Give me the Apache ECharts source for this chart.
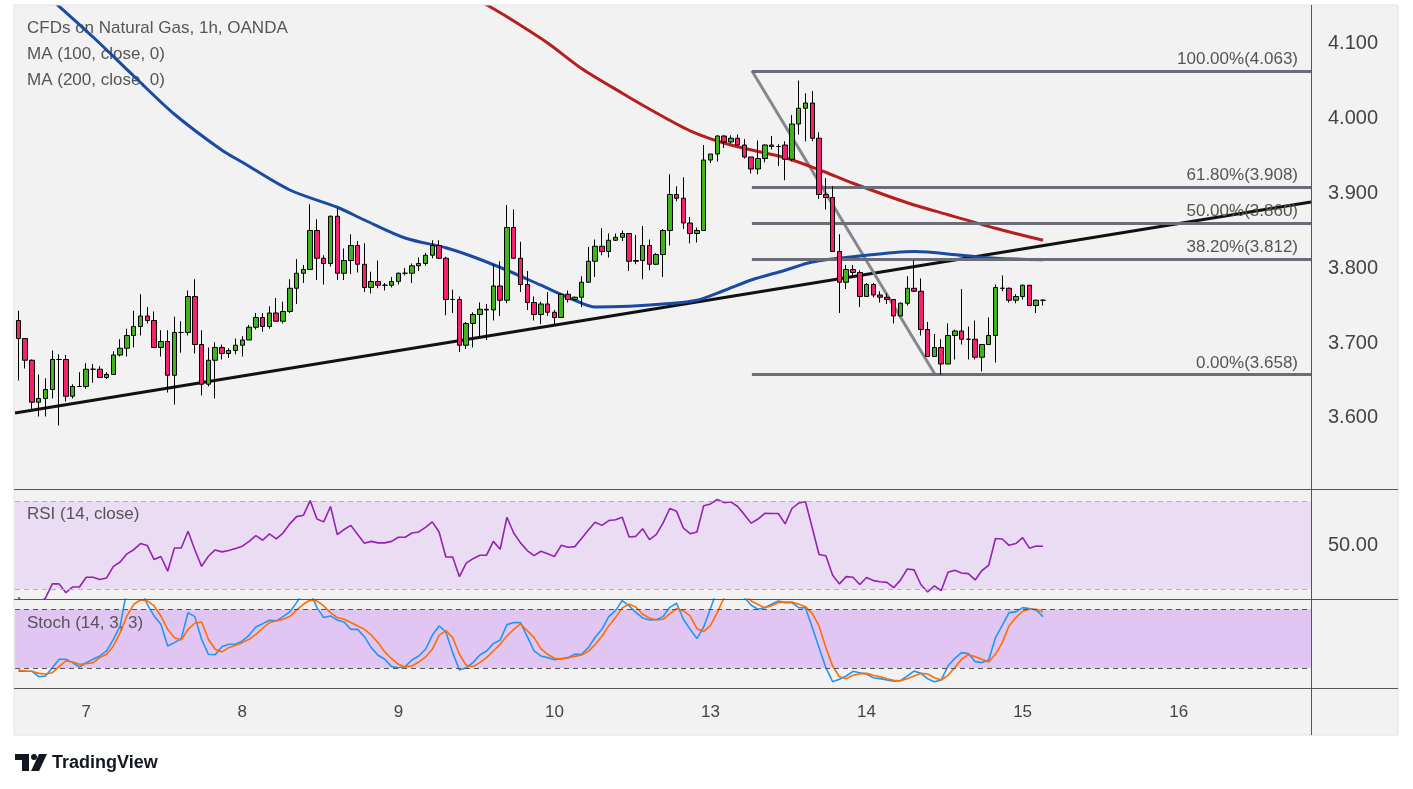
<!DOCTYPE html>
<html><head><meta charset="utf-8">
<script src="https://cdn.jsdelivr.net/npm/echarts@6/dist/echarts.min.js"></script>
<style>html,body{margin:0;padding:0;background:#fff}#c{width:1413px;height:789px}</style>
</head><body><div id="c"></div>
<script>
// ---------- data ----------
const days = ['7','8','9','10','13','14','15','16'];
const firstDayIndex = 10;
const barsPerDay = 23;
const slotCount = 191;

const open = [3.730,3.706,3.677,3.621,3.626,3.638,3.678,3.678,3.629,3.642,3.642,3.665,3.665,3.654,3.658,3.684,3.693,3.710,3.722,3.736,
3.730,3.694,3.702,3.657,3.714,3.714,3.762,3.698,3.645,3.677,3.694,3.686,3.690,3.697,3.704,3.721,3.734,3.722,3.740,3.729,
3.742,3.773,3.793,3.798,3.850,3.813,3.806,3.869,3.793,3.810,3.830,3.805,3.774,3.782,3.777,3.777,3.782,3.793,3.793,3.803,
3.806,3.817,3.830,3.813,3.758,3.758,3.697,3.726,3.738,3.745,3.744,3.776,3.757,3.854,3.813,3.778,3.754,3.738,3.752,3.741,
3.734,3.765,3.758,3.761,3.781,3.809,3.829,3.822,3.837,3.841,3.846,3.809,3.810,3.830,3.805,3.818,3.850,3.898,3.893,3.860,
3.846,3.850,3.944,3.952,3.976,3.968,3.973,3.964,3.948,3.932,3.946,3.964,3.962,3.964,3.945,3.992,4.013,4.020,3.973,3.898,
3.894,3.822,3.781,3.798,3.794,3.762,3.778,3.764,3.761,3.758,3.736,3.753,3.773,3.769,3.718,3.682,3.694,3.672,3.710,3.716,
3.705,3.705,3.681,3.698,3.710,3.773,3.773,3.757,3.762,3.777,3.750,3.757];
const close = [3.706,3.677,3.621,3.626,3.638,3.678,3.678,3.629,3.642,3.642,3.665,3.665,3.654,3.658,3.684,3.693,3.710,3.722,3.736,3.730,
3.694,3.702,3.657,3.714,3.714,3.762,3.698,3.645,3.677,3.694,3.686,3.690,3.697,3.704,3.721,3.734,3.722,3.740,3.729,3.742,
3.773,3.793,3.798,3.850,3.813,3.806,3.869,3.793,3.810,3.830,3.805,3.774,3.782,3.777,3.777,3.782,3.793,3.793,3.803,3.806,
3.817,3.830,3.813,3.758,3.758,3.697,3.726,3.738,3.745,3.744,3.776,3.757,3.854,3.813,3.778,3.754,3.738,3.752,3.741,3.734,
3.765,3.758,3.761,3.781,3.809,3.829,3.822,3.837,3.841,3.846,3.809,3.810,3.830,3.805,3.818,3.850,3.898,3.893,3.860,3.846,
3.850,3.944,3.952,3.976,3.968,3.973,3.964,3.948,3.932,3.946,3.964,3.962,3.962,3.945,3.992,4.013,4.020,3.973,3.898,3.894,
3.822,3.781,3.798,3.794,3.762,3.778,3.764,3.761,3.758,3.736,3.753,3.773,3.769,3.718,3.682,3.694,3.672,3.710,3.716,3.705,
3.705,3.681,3.698,3.710,3.774,3.773,3.757,3.762,3.777,3.750,3.757,3.757];
const low = [3.650,3.666,3.610,3.602,3.602,3.626,3.590,3.622,3.626,3.642,3.639,3.647,3.654,3.652,3.658,3.682,3.682,3.694,3.710,3.726,
3.694,3.682,3.634,3.618,3.687,3.710,3.686,3.630,3.642,3.626,3.678,3.680,3.685,3.682,3.704,3.718,3.715,3.719,3.729,3.726,
3.740,3.752,3.780,3.798,3.784,3.778,3.802,3.784,3.784,3.792,3.794,3.768,3.766,3.773,3.770,3.774,3.778,3.790,3.780,3.796,
3.803,3.813,3.812,3.737,3.740,3.688,3.692,3.694,3.708,3.704,3.730,3.736,3.753,3.812,3.768,3.744,3.730,3.725,3.736,3.724,
3.734,3.754,3.757,3.748,3.781,3.788,3.817,3.814,3.836,3.836,3.796,3.805,3.785,3.797,3.804,3.788,3.830,3.889,3.852,3.833,
3.834,3.850,3.940,3.942,3.960,3.966,3.964,3.946,3.926,3.925,3.941,3.958,3.936,3.917,3.942,3.978,3.969,3.969,3.892,3.878,
3.822,3.740,3.772,3.788,3.748,3.762,3.761,3.754,3.752,3.726,3.736,3.750,3.768,3.710,3.682,3.682,3.658,3.672,3.678,3.698,
3.678,3.678,3.662,3.698,3.674,3.769,3.754,3.753,3.758,3.750,3.740,3.750];
const high = [3.743,3.706,3.678,3.658,3.653,3.690,3.685,3.684,3.645,3.661,3.673,3.672,3.669,3.661,3.689,3.705,3.719,3.743,3.765,3.748,
3.742,3.717,3.717,3.735,3.729,3.770,3.785,3.717,3.694,3.701,3.698,3.693,3.706,3.709,3.724,3.740,3.740,3.749,3.760,3.755,
3.785,3.812,3.804,3.885,3.865,3.817,3.870,3.880,3.826,3.845,3.836,3.833,3.795,3.810,3.780,3.788,3.794,3.800,3.806,3.814,
3.820,3.837,3.837,3.815,3.771,3.762,3.728,3.741,3.754,3.752,3.805,3.809,3.884,3.878,3.835,3.796,3.762,3.755,3.768,3.744,
3.766,3.770,3.762,3.789,3.828,3.838,3.853,3.846,3.846,3.850,3.846,3.844,3.856,3.838,3.820,3.852,3.925,3.909,3.921,3.868,
3.854,3.964,3.952,3.977,3.977,3.977,3.978,3.972,3.948,3.970,3.965,3.976,3.965,3.969,4.004,4.050,4.033,4.036,3.981,3.920,
3.909,3.845,3.804,3.804,3.797,3.780,3.780,3.769,3.766,3.758,3.754,3.789,3.810,3.786,3.728,3.712,3.705,3.726,3.718,3.772,
3.722,3.730,3.698,3.734,3.778,3.790,3.774,3.765,3.778,3.777,3.758,3.758];

const rsi = [26.2,22,21,23,25.9,32.3,32.3,28.3,30.9,30.9,35.3,35.3,34.3,35.0,40.3,42.3,46.0,47.9,50.7,49.8,
43.4,44.8,38.1,48.7,48.7,56.3,47.9,40.3,44.9,47.8,46.9,47.5,48.4,49.5,51.7,54.3,52.2,55.1,52.8,55.5,
59.7,63.0,63.6,70.3,61.9,60.6,67.6,54.8,57.1,59.0,54.8,50.8,51.7,51.0,51.0,51.7,53.6,53.6,55.5,56.0,
58.1,60.6,56.0,44.6,44.6,35.6,41.8,43.8,45.4,45.4,51.7,48.1,62.7,55.5,51.0,47.5,45.2,47.2,46.0,44.8,
49.9,49.0,49.3,53.0,56.9,60.4,59.0,61.2,61.6,62.7,53.7,54.0,57.5,52.5,54.8,60.0,66.7,65.4,57.8,55.2,
56.0,68.0,68.8,70.8,69.4,69.7,67.6,63.9,60.0,61.9,64.5,64.4,64.4,59.7,66.7,69.2,69.8,57.8,45.7,45.1,
36.2,32.3,35.6,35.3,32.0,35.2,33.8,33.3,33.0,30.6,34.0,39.1,38.7,32.0,28.6,31.4,29.2,37.6,38.5,37.3,
37.0,34.1,38.4,40.8,53.0,52.8,49.9,50.7,53.4,48.6,49.6,49.5];

const stochK = [16.6,16.6,16.6,11.1,11.8,20.3,28.9,28.9,25.5,21.0,25.5,28.9,32.3,37.4,49.3,63.0,100,100,100,85.1,
73.2,64.7,42.5,45.9,50.0,76.6,72.5,49.3,34.0,33.6,41.8,44.2,44.2,47.6,53.4,61.9,65.3,68.8,68.1,72.5,
77.3,86.8,98,98,81.7,71.5,73.2,69.1,67.0,59.5,59.5,52.0,40.8,33.0,28.9,21.4,20.3,21.4,28.2,32.3,
39.1,53.4,63.0,56.8,35.7,18.0,20.3,25.5,33.3,37.4,44.9,48.6,64.3,66.4,66.4,52,37.4,32.3,30.6,28.5,
29.5,30.6,34.0,34.0,40.8,51.4,59.5,72.5,78.6,88.9,83.4,76.9,71.1,69.1,69.4,72.5,82.0,86.1,69.8,59.5,
50.0,61.9,80.7,100,100,100,100,92,84.1,80.0,81.7,85.1,88.5,86.8,86.8,81.7,81.4,61.3,40.8,20.3,
6.0,8.4,11.8,16.6,15.2,13.9,10.1,9.1,7.7,6.4,7.0,11.8,16.9,14.5,9.1,6.0,7.7,22.0,29.9,35.7,
34.7,26.5,25.5,28.2,51.0,63.6,76.6,77.3,81.7,80.7,79.3,72.5];
const stochD = [18.0,16.9,16.6,14.5,13.9,15.2,21.4,27.2,26.1,23.8,24.4,25.5,30.6,34.0,42.5,56.1,73.2,85.1,89.5,88.5,
83.4,73.2,59.5,51.0,48.6,59.5,65.7,67.0,49.3,39.1,36.4,40.8,43.2,45.9,49.3,54.4,60.6,66.4,68.1,69.8,
72.5,79.3,85.1,89.5,88.5,83.4,76.6,71.5,69.8,66.4,63.0,59.5,53.8,45.9,36.4,29.5,23.8,21.0,22.0,26.1,
31.3,39.1,53.4,58.2,51.0,34.0,22.7,21.4,25.5,30.6,37.4,44.2,52.7,59.5,65.0,58,51.0,39.8,34.0,29.9,
29.5,30.2,31.9,33.3,37.0,43.9,52.4,63.0,71.5,81.4,85.1,82.4,74.9,71.1,69.1,69.8,75.2,80.7,78.3,73.2,
60.2,57.2,63.6,76.6,92,98,98,96,88.5,84.8,81.7,83.7,86.8,87.5,87.5,85.1,82.7,75.6,63.0,40.8,
22.0,11.1,9.1,12.5,14.2,14.5,12.5,11.1,9.1,7.4,7.0,9.1,11.8,14.5,13.9,10.1,7.7,12.5,20.3,28.9,
33.6,31.6,28.9,26.1,34.0,45.9,63.0,71.5,78.0,80.0,80.0,77.3];

const ma100 = [[0,4.197],[6,4.149],[11,4.108],[17,4.056],[23,4.005],[30,3.957],[33,3.941],[40,3.904],[47,3.881],
[51,3.864],[57,3.840],[63,3.827],[67,3.815],[72,3.797],[77,3.777],[82,3.757],[85,3.748],[90,3.749],[95,3.752],[100,3.757],
[104,3.770],[108,3.784],[113,3.797],[117,3.808],[123,3.815],[132,3.822],[139,3.817],[144,3.813],[151,3.811]];
const ma200 = [[66,4.167],[69,4.151],[72,4.135],[78,4.100],[83,4.066],[89,4.033],[93,4.012],[99,3.983],[105,3.964],[113,3.947],
[118,3.931],[123,3.913],[131,3.887],[137,3.871],[144,3.853],[151,3.837]];

const trendLine = [[-0.5,3.6067],[190.5,3.888]];
const fibPct = ['100.00%','61.80%','50.00%','38.20%','0.00%'];
const fibPrice = [4.063,3.908,3.860,3.812,3.658];
const fibStart = 108.1, fibEnd = 190.5;
const fibDiagonal = [[108.1,4.063],[135.1,3.658]];

const priceTicks = [3.6,3.7,3.8,3.9,4.0,4.1];
const rsiTicks = [50];
const rsiBand = [30,70];
const stochBand = [20,80];

// ---------- build ----------
const FONT = 'Liberation Sans, Arial, sans-serif';
const categories = Array.from({length: slotCount}, (_, i) => {
  const k = i - firstDayIndex;
  return (k >= 0 && k % barsPerDay === 0) ? days[k / barsPerDay] : '';
});
const candles = open.map((o, i) => [o, close[i], low[i], high[i]]);

const chart = echarts.init(document.getElementById('c'), null, {renderer: 'canvas'});

const hiddenCat = (g) => ({type:'category', gridIndex:g, data:categories, boundaryGap:true,
  axisLine:{show:false}, axisTick:{show:false}, axisLabel:{show:false}, splitLine:{show:false}});

const option = {
  animation: false,
  backgroundColor: '#f2f2f2',
  grid: [
    {left:15, top:5, width:1296, height:484},
    {left:15, top:489, width:1296, height:110},
    {left:15, top:599, width:1296, height:89}
  ],
  xAxis: [
    hiddenCat(0),
    hiddenCat(1),
    {type:'category', gridIndex:2, data:categories, boundaryGap:true,
     axisLine:{show:false}, axisTick:{show:false}, splitLine:{show:false},
     axisLabel:{show:true, interval:(idx, val) => val !== '', color:'#444', fontSize:17, fontFamily:FONT, margin:16}},
    {type:'value', gridIndex:0, min:-0.5, max:slotCount - 0.5, show:false}
  ],
  yAxis: [
    {type:'value', gridIndex:0, position:'right', min:3.5053, max:4.1507,
     splitLine:{show:false}, axisLine:{show:false}, axisTick:{show:false},
     axisLabel:{customValues:priceTicks, formatter:v => v.toFixed(3), color:'#444', fontSize:20, fontFamily:FONT, margin:17}},
    {type:'value', gridIndex:1, position:'right', min:25.4, max:75.6,
     splitLine:{show:false}, axisLine:{show:false}, axisTick:{show:false},
     axisLabel:{customValues:rsiTicks, formatter:v => v.toFixed(2), color:'#444', fontSize:20, fontFamily:FONT, margin:17}},
    {type:'value', gridIndex:2, position:'right', min:-0.45, max:90.5,
     splitLine:{show:false}, axisLine:{show:false}, axisTick:{show:false}, axisLabel:{show:false}}
  ],
  series: [
    {type:'line', name:'trend', xAxisIndex:3, yAxisIndex:0, data:trendLine, symbol:'none', silent:true,
     lineStyle:{color:'#111', width:3}, z:3},
    {type:'line', name:'fibDiag', xAxisIndex:3, yAxisIndex:0, data:fibDiagonal, symbol:'none', silent:true,
     lineStyle:{color:'#85878f', width:3}, z:3,
     markLine:{silent:true, symbol:'none', animation:false,
       lineStyle:{color:'#6a6d78', width:3, type:'solid'},
       label:{show:true, position:'insideEndTop', distance:[13,3], color:'#555', fontSize:17, fontFamily:FONT,
              formatter: p => p.data.name},
       data: fibPrice.map((v, i) => [
         {coord:[fibStart, v], name: fibPct[i] + '(' + v.toFixed(3) + ')'},
         {coord:[fibEnd, v]}])
     }},
    {type:'line', name:'MA100', xAxisIndex:3, yAxisIndex:0, data:ma100, symbol:'none', smooth:0.3, silent:true,
     lineStyle:{color:'#1a4aa2', width:3}, z:4},
    {type:'line', name:'MA200', xAxisIndex:3, yAxisIndex:0, data:ma200, symbol:'none', smooth:0.3, silent:true,
     lineStyle:{color:'#b71f1f', width:3}, z:4},
    {type:'candlestick', name:'NG', xAxisIndex:0, yAxisIndex:0, data:candles, barWidth:5, silent:true, z:5,
     itemStyle:{color:'#3fb41c', color0:'#f5216c', borderColor:'#000', borderColor0:'#000', borderWidth:1}},
    {type:'line', name:'RSI', xAxisIndex:1, yAxisIndex:1, data:rsi, symbol:'none', silent:true,
     lineStyle:{color:'#9423b3', width:1.6}, z:4,
     markArea:{silent:true, itemStyle:{color:'#e9dcf3'}, data:[[{yAxis:rsiBand[0]},{yAxis:rsiBand[1]}]]},
     markLine:{silent:true, symbol:'none', label:{show:false}, lineStyle:{color:'#b6adbd', type:[5,4], width:1},
       data:rsiBand.map(v => ({yAxis:v}))}},
    {type:'line', name:'%K', xAxisIndex:2, yAxisIndex:2, data:stochK, symbol:'none', silent:true,
     lineStyle:{color:'#2196f3', width:1.6}, z:4,
     markArea:{silent:true, itemStyle:{color:'#e1c6f3'}, data:[[{yAxis:stochBand[0]},{yAxis:stochBand[1]}]]},
     markLine:{silent:true, symbol:'none', label:{show:false}, lineStyle:{color:'#555', type:[5,4], width:1},
       data:stochBand.map(v => ({yAxis:v}))}},
    {type:'line', name:'%D', xAxisIndex:2, yAxisIndex:2, data:stochD, symbol:'none', silent:true,
     lineStyle:{color:'#ff6d00', width:1.6}, z:4}
  ],
  graphic: [
    {type:'rect', shape:{x:0,y:0,width:1413,height:5}, style:{fill:'#fff'}, z:50, silent:true},
    {type:'rect', shape:{x:0,y:0,width:14,height:789}, style:{fill:'#fff'}, z:50, silent:true},
    {type:'rect', shape:{x:1398,y:0,width:15,height:789}, style:{fill:'#fff'}, z:50, silent:true},
    {type:'rect', shape:{x:0,y:735,width:1413,height:54}, style:{fill:'#fff'}, z:50, silent:true},
    {type:'rect', shape:{x:14,y:5,width:1384,height:730}, style:{fill:'none', stroke:'#e2e2e6', lineWidth:1}, z:51, silent:true},
    {type:'line', shape:{x1:14,y1:489.5,x2:1398,y2:489.5}, style:{stroke:'#555', lineWidth:1}, z:51, silent:true},
    {type:'line', shape:{x1:14,y1:599.5,x2:1398,y2:599.5}, style:{stroke:'#555', lineWidth:1}, z:51, silent:true},
    {type:'line', shape:{x1:14,y1:688.5,x2:1398,y2:688.5}, style:{stroke:'#555', lineWidth:1}, z:51, silent:true},
    {type:'line', shape:{x1:1311.5,y1:5,x2:1311.5,y2:735}, style:{stroke:'#555', lineWidth:1}, z:51, silent:true},
    {type:'text', x:27, y:28, style:{text:'CFDs on Natural Gas, 1h, OANDA', fill:'#555', font:'17px ' + FONT, textVerticalAlign:'middle'}, z:1, silent:true},
    {type:'text', x:27, y:54, style:{text:'MA (100, close, 0)', fill:'#555', font:'17px ' + FONT, textVerticalAlign:'middle'}, z:1, silent:true},
    {type:'text', x:27, y:80, style:{text:'MA (200, close, 0)', fill:'#555', font:'17px ' + FONT, textVerticalAlign:'middle'}, z:1, silent:true},
    {type:'text', x:27, y:514, style:{text:'RSI (14, close)', fill:'#555', font:'17px ' + FONT, textVerticalAlign:'middle'}, z:52, silent:true},
    {type:'text', x:27, y:623, style:{text:'Stoch (14, 3, 3)', fill:'#555', font:'17px ' + FONT, textVerticalAlign:'middle'}, z:52, silent:true},
    // TradingView logo
    {type:'rect', shape:{x:15,y:754,width:14,height:6}, style:{fill:'#131722'}, z:60, silent:true},
    {type:'rect', shape:{x:22,y:754,width:7,height:17}, style:{fill:'#131722'}, z:60, silent:true},
    {type:'circle', shape:{cx:34,cy:757,r:3}, style:{fill:'#131722'}, z:60, silent:true},
    {type:'polygon', shape:{points:[[39,754],[47,754],[39,771],[31,771]]}, style:{fill:'#131722'}, z:60, silent:true},
    {type:'text', x:52, y:763, style:{text:'TradingView', fill:'#131722', font:'bold 18px ' + FONT, textVerticalAlign:'middle'}, z:60, silent:true}
  ]
};
chart.setOption(option);
</script>
</body></html>
